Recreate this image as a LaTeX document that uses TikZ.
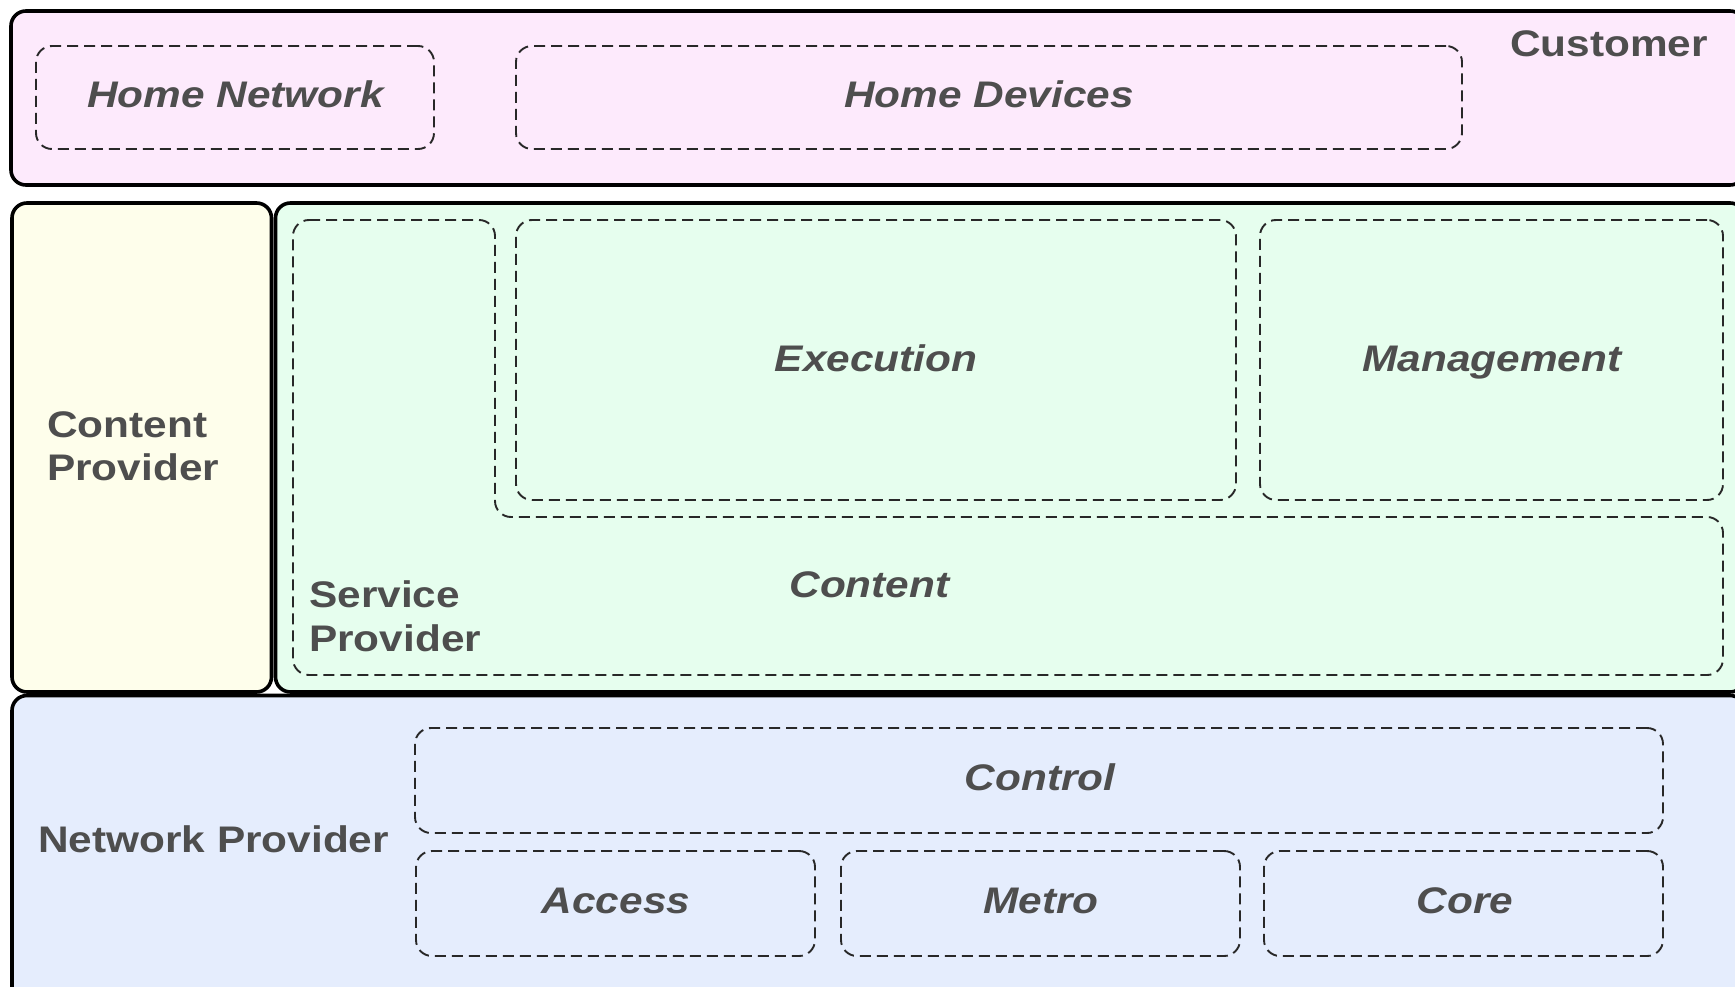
\documentclass[tikz,border=0pt]{standalone}
\usepackage{fontspec}
\setmainfont{Liberation Sans}[FakeStretch=1.145]
\usetikzlibrary{fit}

\definecolor{customerfill}{RGB}{253,234,252}
\definecolor{contentfill}{RGB}{254,254,235}
\definecolor{servicefill}{RGB}{230,254,238}
\definecolor{networkfill}{RGB}{229,237,253}
\definecolor{labeltext}{RGB}{78,78,78}
\definecolor{partline}{RGB}{40,40,40}

\begin{document}
\begin{tikzpicture}[x=1pt,y=-1pt,
  layer/.style={draw=black, line width=3.6pt, rounded corners=15pt, inner sep=0pt},
  part/.style={draw=partline, line width=1.9pt, dash pattern=on 11pt off 6pt,
               rounded corners=16pt, inner sep=0pt},
  role/.style={text=labeltext, inner sep=0pt, font=\fontsize{37}{44}\selectfont\bfseries},
  unit/.style={text=labeltext, inner sep=0pt, font=\fontsize{37}{44}\selectfont\bfseries\itshape},
]
\useasboundingbox (0,0) rectangle (1735,987);
\clip (0,0) rectangle (1735,987);

% provider layers
\node[layer, fill=customerfill, fit={(11,11) (1745,185)}] (customer) {};
\node[layer, fill=contentfill, fit={(12,203) (271.5,692)}] (contentprov) {};
\node[layer, fill=servicefill, fit={(275.5,203) (1745,692)}] (serviceprov) {};
\node[layer, fill=networkfill, fit={(12,695.5) (1745,1010)}] (networkprov) {};

% customer domain
\node[part, fit={(36,46) (434,149)}] (homenet) {};
\node[part, fit={(516,46) (1462,149)}] (homedev) {};
\node[role, anchor=base] (customerlbl) at (1609,57) {Customer};
\node[unit, anchor=base] (homenetlbl) at (235.5,108) {Home Network};
\node[unit, anchor=base] (homedevlbl) at (989,108) {Home Devices};

% content provider
\node[role, anchor=base west] (cplbla) at (47,437) {Content};
\node[role, anchor=base west] (cplblb) at (47,480) {Provider};

% service provider: L-shaped outline around its functions
\draw[part] (293,220) -- (495,220) -- (495,517) -- (1723,517)
            -- (1723,675) -- (293,675) -- cycle;
\node[part, fit={(516,220) (1236,500)}] (execution) {};
\node[part, fit={(1260,220) (1723,500)}] (management) {};
\node[unit, anchor=base] (execlbl) at (876,371) {Execution};
\node[unit, anchor=base] (mgmtlbl) at (1492,371) {Management};
\node[unit, anchor=base] (contentlbl) at (869.5,597) {Content};
\node[role, anchor=base west] (splbla) at (309,607) {Service};
\node[role, anchor=base west] (splblb) at (309,651) {Provider};

% network provider
\node[role, anchor=base west] (nplbl) at (38,852) {Network Provider};
\node[part, fit={(415,728) (1663,833)}] (control) {};
\node[part, fit={(416,851) (815,956)}] (access) {};
\node[part, fit={(841,851) (1240,956)}] (metro) {};
\node[part, fit={(1264,851) (1663,956)}] (core) {};
\node[unit, anchor=base] (controllbl) at (1040,790) {Control};
\node[unit, anchor=base] (accesslbl) at (616,913) {Access};
\node[unit, anchor=base] (metrolbl) at (1041,913) {Metro};
\node[unit, anchor=base] (corelbl) at (1465,913) {Core};
\end{tikzpicture}
\end{document}
